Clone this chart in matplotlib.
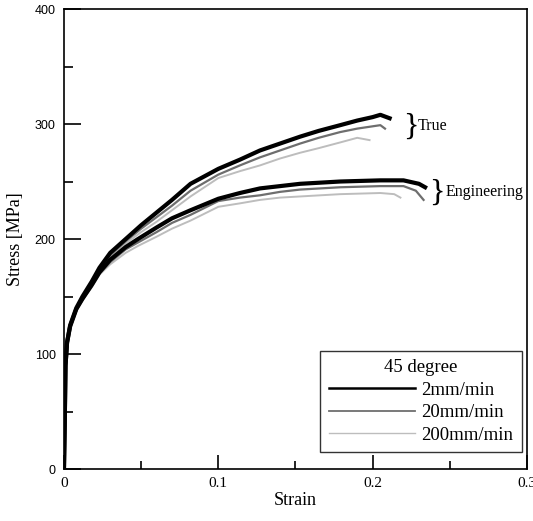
import numpy as np
import matplotlib
matplotlib.use("Agg")
import matplotlib.pyplot as plt
from matplotlib.ticker import MultipleLocator

serif = "Liberation Serif"
sans = "Liberation Sans"

# true stress-strain
true_2_x = [0, 0.0005, 0.001, 0.002, 0.004, 0.008, 0.012, 0.018, 0.023, 0.03, 0.04, 0.05,
            0.06, 0.07, 0.082, 0.1, 0.114, 0.127, 0.14, 0.153, 0.165, 0.179, 0.19, 0.2, 0.205, 0.211]
true_2_y = [0, 40, 90, 110, 125, 140, 150, 163, 175, 188, 200, 212,
            223, 234, 248, 261, 269, 277, 283, 289, 294, 299, 303, 306, 308, 305]
true_20_x = [0, 0.0005, 0.001, 0.002, 0.004, 0.008, 0.012, 0.018, 0.023, 0.03, 0.04, 0.05,
             0.06, 0.07, 0.082, 0.1, 0.114, 0.127, 0.14, 0.153, 0.165, 0.179, 0.19, 0.2, 0.205, 0.208]
true_20_y = [0, 40, 90, 110, 124, 139, 149, 162, 174, 186, 198, 209,
             219, 229, 242, 256, 264, 271, 277, 283, 288, 293, 296, 298, 299, 296]
true_200_x = [0, 0.0005, 0.001, 0.002, 0.004, 0.008, 0.012, 0.018, 0.023, 0.03, 0.04, 0.05,
              0.06, 0.07, 0.082, 0.1, 0.114, 0.127, 0.14, 0.153, 0.165, 0.179, 0.19, 0.198]
true_200_y = [0, 40, 90, 110, 124, 139, 149, 161, 172, 184, 196, 206,
              215, 225, 237, 253, 259, 264, 270, 275, 279, 284, 288, 286]

# engineering stress-strain
eng_2_x = [0, 0.0005, 0.001, 0.002, 0.004, 0.008, 0.012, 0.018, 0.023, 0.03, 0.04, 0.048,
           0.06, 0.07, 0.082, 0.1, 0.114, 0.127, 0.14, 0.153, 0.179, 0.205, 0.22, 0.23, 0.234]
eng_2_y = [0, 40, 90, 110, 124, 139, 148, 160, 171, 182, 193, 200,
           210, 218, 225, 235, 240, 244, 246, 248, 250, 251, 251, 248, 245]
eng_20_x = [0, 0.0005, 0.001, 0.002, 0.004, 0.008, 0.012, 0.018, 0.023, 0.03, 0.04, 0.048,
            0.06, 0.07, 0.082, 0.1, 0.114, 0.127, 0.14, 0.153, 0.179, 0.205, 0.22, 0.228, 0.233]
eng_20_y = [0, 40, 90, 110, 124, 138, 147, 159, 170, 180, 191, 197,
            206, 214, 221, 233, 236, 238, 241, 243, 245, 246, 246, 242, 234]
eng_200_x = [0, 0.0005, 0.001, 0.002, 0.004, 0.008, 0.012, 0.018, 0.023, 0.03, 0.04, 0.048,
             0.06, 0.07, 0.082, 0.1, 0.114, 0.127, 0.14, 0.153, 0.179, 0.205, 0.214, 0.218]
eng_200_y = [0, 40, 90, 110, 124, 138, 147, 158, 169, 178, 188, 194,
             202, 209, 216, 228, 231, 234, 236, 237, 239, 240, 239, 236]

rates = ["2mm/min", "20mm/min", "200mm/min"]
colors = ["#000000", "#6e6e6e", "#bdbdbd"]
widths = [3.0, 1.6, 1.4]

x_ticks = [0, 0.1, 0.2, 0.3]
x_labels = ["0", "0.1", "0.2", "0.3"]
y_ticks = [0, 100, 200, 300, 400]
y_labels = ["0", "100", "200", "300", "400"]

fig = plt.figure(figsize=(5.33, 5.21), dpi=100)
ax = fig.add_axes([0.12, 0.0998, 0.8687, 0.8829])

curves = [(true_2_x, true_2_y, eng_2_x, eng_2_y),
          (true_20_x, true_20_y, eng_20_x, eng_20_y),
          (true_200_x, true_200_y, eng_200_x, eng_200_y)]
for i in [2, 1, 0]:
    tx, ty, ex, ey = curves[i]
    ax.plot(ex, ey, color=colors[i], lw=widths[i], zorder=3 - i)
    ax.plot(tx, ty, color=colors[i], lw=widths[i], zorder=3 - i, label=rates[i])

ax.set_xlim(0, 0.3)
ax.set_ylim(0, 400)
ax.set_xticks(x_ticks, x_labels, fontfamily=serif, fontsize=11)
ax.set_yticks(y_ticks, y_labels, fontfamily=sans, fontsize=9)
ax.xaxis.set_minor_locator(MultipleLocator(0.05))
ax.yaxis.set_minor_locator(MultipleLocator(50))
ax.tick_params(axis="x", which="major", direction="in", length=10, width=1.2, pad=6)
ax.tick_params(axis="x", which="minor", direction="in", length=6, width=1.2)
ax.tick_params(axis="y", which="major", direction="in", length=12, width=1.2, pad=6)
ax.tick_params(axis="y", which="minor", direction="in", length=6.5, width=1.2)
for s in ax.spines.values():
    s.set_linewidth(1.2)

ax.set_xlabel("Strain", fontfamily=serif, fontsize=13, labelpad=1)
ax.set_ylabel("Stress [MPa]", fontfamily=serif, fontsize=13, labelpad=8)

# braces with labels
ax.text(0.2195, 297, "}", fontfamily=serif, fontsize=23, va="center", ha="left")
ax.text(0.2295, 298, "True", fontfamily=serif, fontsize=11.5, va="center", ha="left")
ax.text(0.2365, 240, "}", fontfamily=serif, fontsize=23, va="center", ha="left")
ax.text(0.2475, 241, "Engineering", fontfamily=serif, fontsize=11.5, va="center", ha="left",
        clip_on=False, zorder=0)

handles, labels = ax.get_legend_handles_labels()
order = [labels.index(r) for r in rates]
leg = ax.legend([handles[k] for k in order], [labels[k] for k in order],
                title="45 degree", loc="lower right", bbox_to_anchor=(0.989, 0.037),
                borderaxespad=0,
                prop={"family": serif, "size": 13.5},
                title_fontproperties={"family": serif, "size": 13.5},
                frameon=True, fancybox=False, edgecolor="black", handlelength=4.6,
                handletextpad=0.35, borderpad=0.45, labelspacing=0.28)
leg.get_frame().set_linewidth(1.0)
for h, w in zip(leg.legend_handles, [1.8, 1.3, 1.0]):
    h.set_linewidth(w)

fig.savefig("out.png", dpi=100)
